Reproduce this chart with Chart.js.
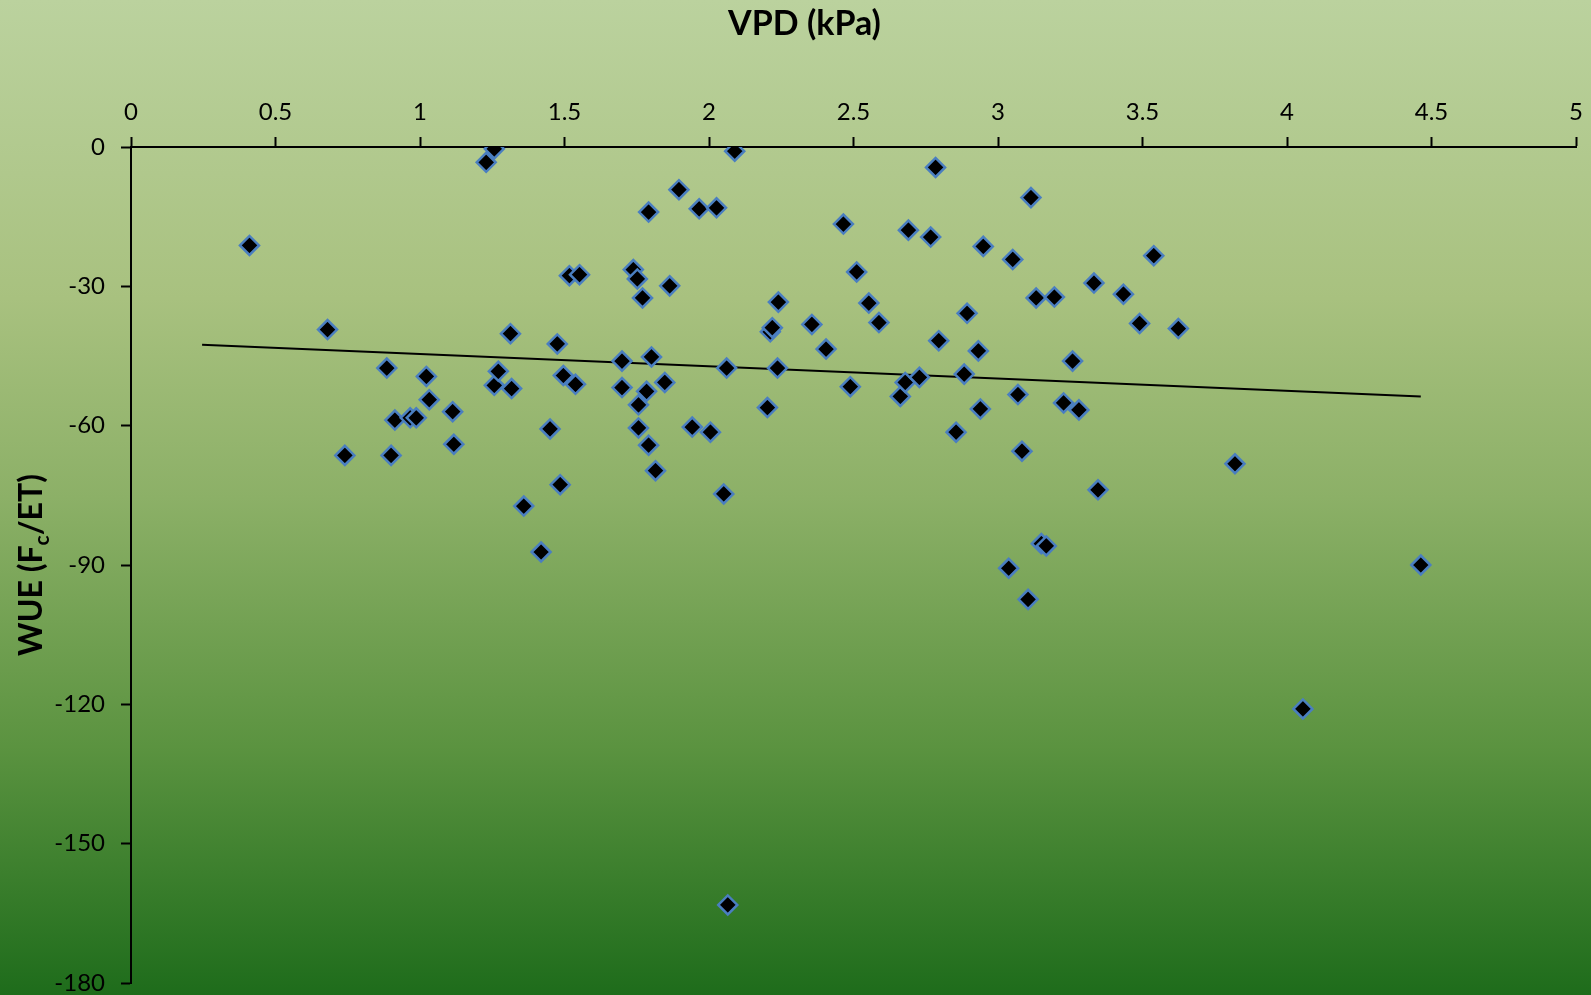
<!DOCTYPE html>
<html>
<head>
<meta charset="utf-8">
<script src="https://cdn.jsdelivr.net/npm/chart.js@4/dist/chart.umd.min.js"></script>
<style>
  html, body { margin: 0; padding: 0; background: #1e6c1b; }
  canvas { display: block; }
</style>
</head>
<body>
<canvas id="wue-chart" width="1591" height="995"></canvas>
<script>
// VPD (kPa) vs WUE (Fc/ET)
var vpd = [
  0.41, 0.68, 0.74, 0.885, 0.90, 0.913, 0.966, 0.987, 1.022, 1.032,
  1.113, 1.117, 1.229, 1.257, 1.257, 1.271, 1.313, 1.317, 1.359, 1.419,
  1.45, 1.475, 1.485, 1.496, 1.517, 1.552, 1.538, 1.699, 1.699, 1.738,
  1.752, 1.756, 1.756, 1.77, 1.784, 1.791, 1.791, 1.801, 1.815, 1.847,
  1.864, 1.896, 1.942, 1.966, 2.005, 2.026, 2.051, 2.061, 2.065, 2.089,
  2.202, 2.212, 2.219, 2.237, 2.24, 2.356, 2.405, 2.465, 2.489, 2.511,
  2.553, 2.588, 2.662, 2.679, 2.69, 2.728, 2.767, 2.784, 2.795, 2.855,
  2.883, 2.893, 2.932, 2.939, 2.949, 3.037, 3.051, 3.069, 3.083, 3.104,
  3.114, 3.132, 3.15, 3.167, 3.195, 3.227, 3.258, 3.28, 3.332, 3.346,
  3.434, 3.49, 3.539, 3.624, 3.82, 4.055, 4.463
];
var wue = [
  -21.2, -39.3, -66.4, -47.6, -66.4, -58.8, -58.3, -58.3, -49.4, -54.4,
  -57.0, -64.0, -3.3, -0.4, -51.3, -48.3, -40.2, -52.0, -77.3, -87.2,
  -60.7, -42.4, -72.7, -49.2, -27.7, -27.5, -51.1, -46.1, -51.8, -26.4,
  -28.4, -55.5, -60.5, -32.5, -52.6, -14.0, -64.2, -45.2, -69.7, -50.7,
  -29.9, -9.2, -60.3, -13.3, -61.4, -13.1, -74.7, -47.6, -163.2, -0.9,
  -56.1, -39.8, -38.9, -47.6, -33.4, -38.2, -43.5, -16.6, -51.6, -26.9,
  -33.6, -37.8, -53.7, -50.7, -17.9, -49.6, -19.4, -4.4, -41.7, -61.4,
  -48.9, -35.8, -43.9, -56.4, -21.4, -90.7, -24.2, -53.3, -65.5, -97.4,
  -10.9, -32.5, -85.4, -85.9, -32.3, -55.1, -46.1, -56.6, -29.3, -73.8,
  -31.7, -38.0, -23.4, -39.1, -68.2, -121.0, -90.0
];
// linear trendline, ends as drawn
var trendX = [0.246, 4.463];
var trendY = [-42.6, -53.7];

var points = vpd.map(function(v, i) { return {x: v, y: wue[i]}; });
var trendPts = trendX.map(function(v, i) { return {x: v, y: trendY[i]}; });

var fontFamily = "Lato, 'Open Sans', sans-serif";

// green gradient behind everything
var bgPlugin = {
  id: 'bg',
  beforeDraw: function(chart) {
    var ctx = chart.ctx;
    var g = ctx.createLinearGradient(0, 0, 0, chart.height);
    g.addColorStop(0, '#bbd29e');
    g.addColorStop(0.3, '#a8c17f');
    g.addColorStop(0.5, '#8cb067');
    g.addColorStop(0.75, '#5b9340');
    g.addColorStop(1, '#1e6c1b');
    ctx.save();
    ctx.fillStyle = g;
    ctx.fillRect(0, 0, chart.width, chart.height);
    ctx.restore();
  }
};

// axis titles drawn by hand: x title sits on page centre, y title has a subscript
var titlesPlugin = {
  id: 'titles',
  afterDraw: function(chart) {
    var ctx = chart.ctx;
    var area = chart.chartArea;
    ctx.save();
    ctx.fillStyle = '#000';
    ctx.font = 'bold 34px ' + fontFamily;
    ctx.textAlign = 'center';
    ctx.textBaseline = 'middle';
    ctx.fillText('VPD (kPa)', chart.width / 2 + 9, 24);

    var big = 'bold 32px ' + fontFamily;
    var small = 'bold 21px ' + fontFamily;
    var parts = [['WUE (F', big, 0], ['c', small, 7], ['/ET)', big, 0]];
    var total = 0;
    parts.forEach(function(p) { ctx.font = p[1]; total += ctx.measureText(p[0]).width; });
    ctx.translate(31, (area.top + area.bottom) / 2);
    ctx.rotate(-Math.PI / 2);
    ctx.textBaseline = 'alphabetic';
    ctx.textAlign = 'left';
    var x = -total / 2;
    parts.forEach(function(p) {
      ctx.font = p[1];
      ctx.fillText(p[0], x, 11 + p[2]);
      x += ctx.measureText(p[0]).width;
    });
    ctx.restore();
  }
};

function noEdgePadding(scale) {
  scale.paddingLeft = 0;
  scale.paddingRight = 0;
  scale.paddingTop = 0;
  scale.paddingBottom = 0;
}

new Chart(document.getElementById('wue-chart'), {
  type: 'scatter',
  data: {
    datasets: [
      {
        label: 'WUE',
        data: points,
        pointStyle: 'rectRot',
        pointRadius: 9.5,
        pointHoverRadius: 9.5,
        backgroundColor: '#000000',
        borderColor: '#4a7ec0',
        borderWidth: 2.5,
        order: 1
      },
      {
        label: 'Linear',
        type: 'line',
        data: trendPts,
        showLine: true,
        pointRadius: 0,
        borderColor: '#000000',
        borderWidth: 2,
        fill: false,
        order: 2
      }
    ]
  },
  options: {
    responsive: false,
    devicePixelRatio: 1,
    animation: false,
    events: [],
    layout: { padding: { top: 0, left: 0, right: 15, bottom: 12 } },
    plugins: {
      legend: { display: false },
      tooltip: { enabled: false },
      title: { display: false }
    },
    scales: {
      x: {
        type: 'linear',
        position: 'top',
        min: 0,
        max: 5,
        afterFit: function(scale) { scale.height = 147; noEdgePadding(scale); },
        ticks: {
          stepSize: 0.5,
          color: '#000',
          padding: 10,
          maxRotation: 0,
          font: { family: fontFamily, size: 24 },
          callback: function(v) { return String(v); }
        },
        grid: {
          drawOnChartArea: false,
          drawTicks: true,
          tickLength: 10,
          tickColor: '#000',
          tickWidth: 2
        },
        border: { color: '#000', width: 2 }
      },
      y: {
        type: 'linear',
        min: -180,
        max: 0,
        afterFit: function(scale) { scale.width = 131; noEdgePadding(scale); },
        ticks: {
          stepSize: 30,
          color: '#000',
          padding: 16,
          font: { family: fontFamily, size: 24 }
        },
        grid: {
          drawOnChartArea: false,
          drawTicks: true,
          tickLength: 10,
          tickColor: '#000',
          tickWidth: 2
        },
        border: { color: '#000', width: 2 }
      }
    }
  },
  plugins: [bgPlugin, titlesPlugin]
});
</script>
</body>
</html>
